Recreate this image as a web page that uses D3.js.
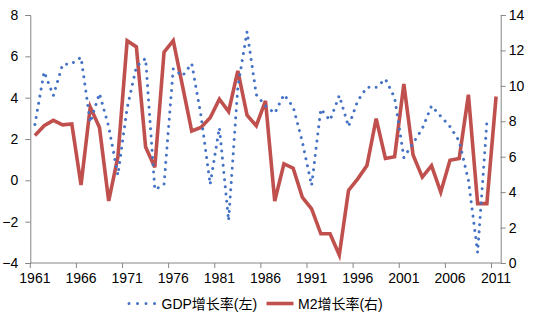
<!DOCTYPE html>
<html>
<head>
<meta charset="utf-8">
<script src="https://cdn.jsdelivr.net/npm/d3@7"></script>
<style>
  html, body { margin: 0; padding: 0; background: #fff; }
  svg { display: block; }
  text { font-family: "Liberation Sans", "Noto Sans CJK SC", sans-serif; fill: #000; }
</style>
</head>
<body>
<svg id="chart" width="533" height="326"></svg>
<script>
// ---- data ----
const years = d3.range(1961, 2012); // 1961..2011
const gdpGrowth = [
  2.7, 5.25, 4.1, 5.6, 5.65, 5.95, 2.8, 4.2, 2.6, 0.25,
  3.5, 5.5, 5.9, -0.45, -0.2, 5.4, 5.05, 5.65, 3.15, -0.2,
  2.55, -1.95, 4.5, 7.2, 4.15, 3.6, 3.25, 4.15, 3.55, 1.85,
  -0.25, 3.45, 2.9, 4.1, 2.6, 3.85, 4.5, 4.5, 4.9, 4.0,
  1.1, 1.8, 2.5, 3.6, 3.1, 2.6, 1.9, 0.0, -3.5, 2.8,
  null
];
const m2Growth = [
  7.2, 7.75, 8.05, 7.8, 7.85, 4.4, 8.8, 7.65, 3.5, 6.0,
  12.55, 12.2, 6.55, 5.4, 11.9, 12.55, 10.0, 7.45, 7.65, 8.2,
  9.25, 8.55, 10.85, 8.35, 7.75, 9.15, 3.5, 5.6, 5.35, 3.7,
  3.05, 1.65, 1.65, 0.45, 4.1, 4.75, 5.5, 8.15, 5.9, 6.0,
  10.1, 6.1, 4.85, 5.5, 4.0, 5.8, 5.9, 9.5, 3.35, 3.35,
  9.4
];
const leftTicks = [-4, -2, 0, 2, 4, 6, 8];
const rightTicks = [0, 2, 4, 6, 8, 10, 12, 14];
const xLabelYears = [1961, 1966, 1971, 1976, 1981, 1986, 1991, 1996, 2001, 2006, 2011];
const seriesNames = ["GDP增长率(左)", "M2增长率(右)"];

// ---- layout ----
const svg = d3.select("#chart");
const plot = { left: 30.3, right: 500.7, top: 15, bottom: 263 };
const axisColor = "#868686";
const blue = "#4472C4";
const red = "#C0504D";

const x = d3.scaleBand().domain(years).range([plot.left, plot.right]).padding(0);
const cx = yr => x(yr) + x.bandwidth() / 2;
const yL = d3.scaleLinear().domain([-4, 8]).range([plot.bottom, plot.top]);
const yR = d3.scaleLinear().domain([0, 14]).range([plot.bottom, plot.top]);

// left axis
const gL = svg.append("g").attr("transform", `translate(${plot.left},0)`)
  .call(d3.axisLeft(yL).tickValues(leftTicks).tickSize(5).tickPadding(7).tickFormat(d3.format("d")));
// right axis
const gR = svg.append("g").attr("transform", `translate(${plot.right},0)`)
  .call(d3.axisRight(yR).tickValues(rightTicks).tickSize(5).tickPadding(3).tickFormat(d3.format("d")));
// bottom axis labels (centered on categories)
const gB = svg.append("g").attr("transform", `translate(0,${plot.bottom})`)
  .call(d3.axisBottom(x).tickValues(xLabelYears).tickSize(0).tickPadding(10).tickFormat(d3.format("d")));
gB.select(".domain").remove();
// bottom axis line and tick marks on category boundaries
const gB2 = svg.append("g");
gB2.append("line").attr("x1", plot.left).attr("x2", plot.right)
  .attr("y1", plot.bottom).attr("y2", plot.bottom);
gB2.selectAll("line.tk").data(xLabelYears).join("line").attr("class", "tk")
  .attr("x1", d => x(d)).attr("x2", d => x(d))
  .attr("y1", plot.bottom).attr("y2", plot.bottom + 5);
gB2.selectAll("line").attr("stroke", axisColor).attr("stroke-width", 1);

[gL, gR, gB].forEach(g => {
  g.selectAll(".domain, line").attr("stroke", axisColor).attr("stroke-width", 1);
  g.selectAll("text").attr("font-size", 14).style("font-family", '"Liberation Sans", sans-serif');
});

// series
const gdpData = years.map((yr, i) => ({ yr, v: gdpGrowth[i] })).filter(d => d.v !== null);
const m2Data = years.map((yr, i) => ({ yr, v: m2Growth[i] }));

const lineL = d3.line().x(d => cx(d.yr)).y(d => yL(d.v));
const lineR = d3.line().x(d => cx(d.yr)).y(d => yR(d.v));

svg.append("path").datum(m2Data).attr("d", lineR)
  .attr("fill", "none").attr("stroke", red).attr("stroke-width", 3.6)
  .attr("stroke-linejoin", "miter");

svg.append("path").datum(gdpData).attr("d", lineL)
  .attr("fill", "none").attr("stroke", blue).attr("stroke-width", 3)
  .attr("stroke-linecap", "round").attr("stroke-dasharray", "0.01 7.2");

// legend
const leg = svg.append("g");
const ly = 303.5;
leg.append("line").attr("x1", 129).attr("x2", 157).attr("y1", ly).attr("y2", ly)
  .attr("stroke", blue).attr("stroke-width", 3).attr("stroke-linecap", "round")
  .attr("stroke-dasharray", "0.01 8.5");
leg.append("text").attr("x", 161.5).attr("y", ly + 5).attr("font-size", 14).text(seriesNames[0]);
leg.append("line").attr("x1", 266.5).attr("x2", 293.5).attr("y1", ly).attr("y2", ly)
  .attr("stroke", red).attr("stroke-width", 3.6);
leg.append("text").attr("x", 298).attr("y", ly + 5).attr("font-size", 14).text(seriesNames[1]);
</script>
</body>
</html>
